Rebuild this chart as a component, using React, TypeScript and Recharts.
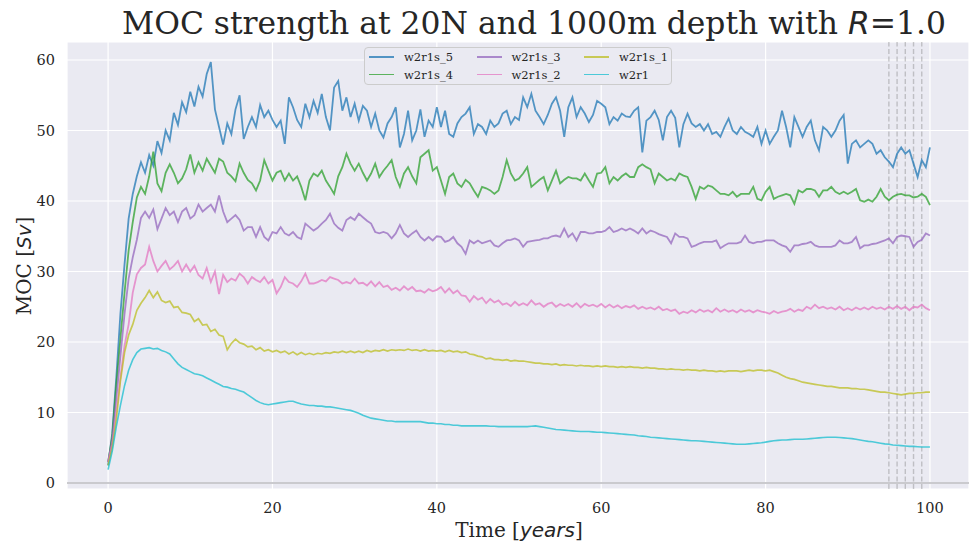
import { CartesianGrid, Line, LineChart, ReferenceLine, XAxis, YAxis } from "recharts"

const SERIF = "DejaVu Serif"
const MATH = "DejaVu Sans"
const INK = "#262626"

// sampled every half year, 0..100
const YEARS = Array.from({ length: 201 }, (_, i) => i / 2)

const W2R1S_5 = [
  2.5, 7.0, 15.0, 24.0, 31.0, 37.5, 41.0, 43.5, 45.5, 44.0,
  46.5, 45.0, 48.5, 46.8, 50.0, 48.6, 52.5, 50.8, 54.0, 52.6,
  55.5, 53.4, 56.2, 54.8, 58.0, 59.7, 53.0, 50.5, 48.0, 51.0,
  49.5, 53.0, 55.0, 48.8, 50.5, 51.9, 50.5, 53.6, 51.9, 52.8,
  51.5, 50.5, 51.4, 48.1, 54.7, 53.3, 51.5, 50.5, 53.8, 51.9,
  54.2, 52.5, 55.2, 51.9, 50.0, 56.1, 57.0, 52.8, 54.7, 51.9,
  53.8, 51.4, 53.5, 52.8, 50.5, 52.4, 50.0, 49.0, 51.0, 51.9,
  53.3, 47.6, 49.5, 52.8, 48.6, 50.0, 53.0, 49.1, 51.4, 50.5,
  53.3, 50.5, 52.8, 49.5, 49.1, 51.0, 51.9, 52.4, 53.3, 49.5,
  50.9, 50.5, 49.5, 51.4, 50.5, 51.0, 52.4, 52.8, 50.9, 51.9,
  51.5, 54.7, 53.3, 55.2, 52.8, 51.9, 50.9, 52.2, 53.8, 54.7,
  52.8, 49.1, 53.3, 54.7, 51.9, 53.3, 52.4, 51.2, 52.2, 54.2,
  53.8, 53.3, 50.9, 51.9, 51.4, 52.4, 52.0, 51.9, 52.8, 53.3,
  46.9, 51.4, 51.9, 52.8, 51.5, 48.6, 51.9, 52.8, 51.8, 47.6,
  50.9, 52.4, 51.0, 50.5, 50.9, 50.0, 50.9, 49.5, 49.8, 49.1,
  50.5, 51.7, 50.0, 49.5, 50.5, 49.8, 49.5, 49.1, 50.5, 48.1,
  50.0, 48.1, 49.1, 50.0, 52.8, 50.5, 47.6, 51.9, 50.5, 49.1,
  50.5, 51.4, 48.6, 47.2, 50.5, 50.0, 49.1, 50.0, 51.4, 52.2,
  45.3, 48.1, 48.6, 47.6, 48.1, 48.6, 48.1, 46.7, 47.2, 46.2,
  45.6, 44.8, 46.7, 47.6, 46.7, 47.2, 45.3, 43.4, 45.8, 44.8,
  47.6,
]

const W2R1S_4 = [
  3.0, 6.5, 14.0, 20.5, 27.0, 33.0, 37.0, 40.5, 42.0, 41.0,
  43.5, 47.0, 42.5, 41.4, 44.0, 45.2, 44.0, 42.5, 43.2, 44.5,
  46.6, 44.0, 45.5, 44.3, 46.0, 45.0, 44.0, 46.0, 45.6, 44.0,
  43.5, 42.8, 45.3, 44.0, 43.0, 42.5, 41.5, 42.9, 45.8, 44.3,
  42.9, 44.0, 44.3, 42.9, 43.9, 42.9, 43.5, 42.0, 40.1, 42.9,
  43.9, 43.5, 44.3, 42.9, 42.0, 41.0, 43.5, 44.8, 46.7, 45.3,
  44.3, 45.3, 44.0, 42.9, 43.9, 45.3, 43.4, 44.3, 45.0, 45.8,
  43.4, 42.0, 43.9, 44.8, 43.5, 42.5, 46.2, 46.7, 47.2, 44.3,
  44.8, 42.9, 41.0, 43.4, 43.9, 42.5, 42.0, 43.0, 42.5, 41.5,
  40.6, 42.0, 41.8, 41.5, 41.0, 41.5, 43.4, 45.8, 43.9, 42.9,
  43.2, 43.9, 44.8, 42.0, 42.5, 43.0, 43.4, 41.5, 42.9, 44.3,
  42.5, 43.0, 43.4, 43.2, 43.2, 42.9, 43.9, 42.9, 42.0, 43.9,
  44.0, 44.8, 42.5, 43.4, 42.9, 43.5, 43.9, 43.4, 43.4, 44.8,
  45.2, 44.8, 44.5, 42.5, 43.9, 43.4, 42.9, 43.2, 42.9, 43.9,
  43.6, 43.4, 42.0, 40.3, 42.0, 41.7, 42.2, 42.0, 41.5, 41.0,
  41.0, 40.8, 41.3, 40.6, 41.0, 41.0, 41.0, 42.0, 40.3, 40.1,
  41.3, 42.0, 40.3, 40.6, 40.8, 41.0, 40.8, 39.6, 41.5, 41.2,
  41.7, 41.7, 41.5, 40.6, 41.5, 41.5, 42.0, 41.3, 41.0, 41.3,
  41.0, 41.3, 41.7, 40.1, 39.9, 40.2, 39.9, 40.6, 41.7, 40.6,
  40.1, 40.6, 40.9, 41.0, 40.8, 40.8, 40.5, 40.6, 41.0, 40.6,
  39.4,
]

const W2R1S_3 = [
  3.0, 6.0, 12.0, 18.0, 24.0, 29.0, 32.0, 34.5, 37.6, 38.5,
  37.6, 38.8, 36.0, 37.5, 39.0, 38.0, 38.5, 37.0, 38.5, 39.0,
  37.5, 38.0, 39.5, 38.5, 39.0, 39.5, 38.5, 40.8, 38.5, 37.0,
  37.5, 38.0, 37.3, 35.8, 36.3, 36.3, 34.9, 36.3, 34.9, 34.4,
  35.6, 35.4, 36.3, 35.4, 35.1, 35.6, 34.9, 34.6, 36.8, 36.3,
  35.8, 36.2, 36.8, 37.3, 38.2, 36.8, 36.2, 35.8, 37.3, 37.7,
  37.3, 38.2, 37.7, 37.2, 36.8, 35.6, 35.4, 35.6, 35.4, 34.7,
  35.4, 36.6, 35.4, 34.9, 35.4, 35.8, 34.9, 34.4, 34.9, 34.4,
  35.0, 34.9, 34.2, 34.4, 34.9, 34.0, 33.5, 32.5, 34.4, 34.0,
  34.4, 34.0, 34.2, 34.4, 33.7, 33.5, 34.0, 34.4, 34.5, 34.7,
  34.4, 33.5, 34.2, 34.3, 34.4, 34.5, 34.7, 34.7, 35.0, 35.1,
  34.9, 36.1, 34.9, 35.4, 34.4, 35.6, 35.6, 35.4, 35.4, 35.6,
  35.6, 35.8, 36.3, 35.6, 35.8, 36.1, 35.8, 36.1, 35.8, 35.4,
  36.1, 35.4, 35.8, 35.6, 35.3, 35.1, 34.9, 34.0, 35.4, 34.9,
  34.9, 34.7, 33.5, 33.7, 34.0, 34.2, 34.2, 34.2, 34.4, 33.3,
  33.7, 34.0, 34.0, 34.0, 34.2, 35.1, 34.2, 34.0, 34.2, 34.2,
  34.4, 34.4, 34.4, 34.0, 33.7, 33.5, 32.8, 33.7, 33.7, 33.9,
  34.0, 34.2, 33.7, 33.5, 33.5, 33.5, 33.5, 33.7, 34.4, 34.0,
  34.0, 34.2, 34.9, 33.3, 33.7, 33.7, 33.9, 34.0, 34.2, 34.4,
  34.7, 34.0, 34.9, 35.1, 35.0, 34.9, 33.5, 34.2, 34.5, 35.4,
  35.1,
]

const W2R1S_2 = [
  3.0, 5.5, 10.0, 15.0, 19.5, 22.5, 27.0, 29.6, 30.5, 31.0,
  33.5, 31.5, 30.0, 30.8, 31.5, 30.3, 30.8, 31.5, 30.0, 31.0,
  30.0, 30.8, 29.5, 29.0, 30.5, 28.5, 30.0, 26.8, 29.5, 28.5,
  29.0, 28.7, 29.7, 29.2, 28.3, 29.2, 28.8, 28.5, 29.2, 28.3,
  28.8, 26.9, 27.8, 29.2, 28.5, 28.3, 27.8, 28.6, 29.7, 28.3,
  28.3, 28.5, 28.8, 28.6, 29.2, 29.0, 28.8, 28.3, 28.5, 28.3,
  29.0, 28.3, 28.4, 28.0, 28.6, 27.9, 28.5, 27.8, 28.0, 27.4,
  27.7, 27.3, 27.9, 27.4, 27.8, 27.2, 27.3, 27.0, 27.5, 27.2,
  27.4, 27.8, 27.0, 27.6, 26.9, 27.3, 26.6, 26.5, 25.7, 26.5,
  26.0, 26.3, 25.5, 26.1, 25.6, 25.9, 25.3, 25.5, 25.1, 25.7,
  25.2, 25.5, 25.2, 25.9, 25.3, 25.5, 25.0, 25.4, 25.6, 25.0,
  25.4, 25.1, 25.4, 25.0, 25.5, 24.9, 25.4, 25.1, 25.3, 25.0,
  25.4, 24.9, 25.3, 24.9, 25.2, 24.8, 25.1, 24.9, 25.2, 24.7,
  25.0, 24.7, 24.9, 24.6, 25.0, 24.5, 24.7, 24.4, 24.6, 24.0,
  24.3, 24.1, 24.5, 24.2, 24.6, 24.3, 24.5, 24.2, 24.8, 24.3,
  24.6, 24.3, 24.5, 24.2, 24.6, 24.3, 24.5, 24.2, 24.5, 24.3,
  24.2, 24.0, 24.4, 24.1, 24.3, 24.4, 24.7, 24.3, 24.6, 24.4,
  25.0, 24.7, 25.3, 24.8, 25.0, 24.7, 24.9, 24.6, 25.0, 24.5,
  24.8, 24.5, 24.9, 24.6, 24.9, 24.6, 25.0, 24.7, 24.9, 24.6,
  25.0, 24.7, 25.1, 24.7, 25.0, 24.5, 25.0, 24.9, 25.3, 24.8,
  24.5,
]

const W2R1S_1 = [
  2.5, 5.0, 9.0, 14.5, 18.5, 21.0, 22.5, 24.5, 25.5, 26.3,
  27.3, 26.3, 27.1, 25.9, 25.6, 25.8, 24.9, 25.0, 24.2, 24.1,
  23.9, 22.9, 23.3, 22.4, 22.5, 21.5, 21.8, 21.0, 20.8, 18.9,
  19.8, 20.4, 19.9, 19.7, 19.3, 19.4, 18.9, 19.2, 18.7, 18.9,
  18.6, 18.8, 18.5, 18.7, 18.3, 18.6, 18.2, 18.5, 18.2, 18.4,
  18.2, 18.4, 18.3, 18.5, 18.4, 18.6, 18.5, 18.7, 18.5, 18.7,
  18.5, 18.7, 18.5, 18.8, 18.6, 18.8, 18.7, 18.9, 18.7, 18.9,
  18.8, 18.9, 18.8, 19.0, 18.8, 18.9, 18.7, 18.9, 18.7, 18.8,
  18.7, 18.8, 18.6, 18.8, 18.6, 18.7, 18.5, 18.6, 18.3, 18.2,
  18.0, 17.9, 17.6, 17.7, 17.5, 17.5, 17.4, 17.5, 17.3, 17.4,
  17.3, 17.3, 17.2, 17.1, 17.0, 17.0, 16.9, 16.9, 16.8, 16.9,
  16.7, 16.8, 16.7, 16.7, 16.6, 16.7, 16.6, 16.6, 16.5, 16.6,
  16.5, 16.6, 16.5, 16.5, 16.4, 16.5, 16.4, 16.5, 16.4, 16.4,
  16.3, 16.4, 16.3, 16.3, 16.2, 16.2, 16.1, 16.2, 16.1, 16.1,
  16.0, 16.1, 16.0, 16.0, 15.9, 16.0, 15.9, 15.9, 15.8, 15.9,
  15.8, 15.9, 15.9, 15.9, 15.8, 15.9, 16.0, 15.9, 16.0, 16.0,
  15.9, 16.0, 15.8, 15.6, 15.3, 15.0, 14.8, 14.7, 14.5, 14.3,
  14.2, 14.1, 14.0, 13.9, 13.8, 13.7, 13.7, 13.6, 13.5, 13.5,
  13.5, 13.4, 13.4, 13.3, 13.3, 13.2, 13.1, 13.0, 12.9, 12.9,
  12.8, 12.7, 12.6, 12.5, 12.6, 12.7, 12.7, 12.8, 12.8, 12.9,
  12.9,
]

const W2R1 = [
  1.9, 4.5, 8.0, 11.0, 13.8, 16.0, 17.5, 18.5, 19.0, 19.1,
  19.2, 19.0, 19.1, 18.8, 18.6, 18.3, 17.6, 16.9, 16.4, 16.1,
  15.8, 15.5, 15.4, 15.2, 14.9, 14.6, 14.3, 14.0, 13.7, 13.6,
  13.4, 13.3, 13.1, 12.9, 12.5, 12.1, 11.7, 11.4, 11.2, 11.1,
  11.2, 11.3, 11.4, 11.5, 11.6, 11.6, 11.4, 11.2, 11.1, 11.0,
  11.0, 10.9, 10.9, 10.8, 10.8, 10.7, 10.6, 10.5, 10.4, 10.3,
  10.1, 9.9, 9.6, 9.4, 9.2, 9.1, 9.0, 8.9, 8.8, 8.8,
  8.7, 8.7, 8.7, 8.7, 8.7, 8.7, 8.7, 8.6, 8.5, 8.5,
  8.4, 8.4, 8.3, 8.3, 8.2, 8.2, 8.1, 8.1, 8.1, 8.1,
  8.1, 8.1, 8.1, 8.05, 8.05, 8.0, 8.0, 8.0, 8.0, 8.0,
  8.0, 8.0, 8.0, 8.05, 8.1, 8.0, 7.9, 7.8, 7.7, 7.6,
  7.55, 7.5, 7.45, 7.4, 7.35, 7.3, 7.3, 7.3, 7.25, 7.2,
  7.2, 7.15, 7.1, 7.05, 7.0, 6.95, 6.9, 6.85, 6.8, 6.7,
  6.65, 6.6, 6.5, 6.45, 6.4, 6.35, 6.3, 6.25, 6.2, 6.15,
  6.1, 6.05, 6.0, 6.0, 5.95, 5.9, 5.85, 5.8, 5.75, 5.7,
  5.65, 5.6, 5.55, 5.5, 5.5, 5.5, 5.55, 5.6, 5.65, 5.7,
  5.8, 5.9, 6.0, 6.05, 6.1, 6.1, 6.15, 6.2, 6.2, 6.2,
  6.25, 6.3, 6.35, 6.4, 6.45, 6.5, 6.5, 6.5, 6.45, 6.4,
  6.35, 6.3, 6.2, 6.1, 6.0, 5.9, 5.85, 5.75, 5.65, 5.55,
  5.5, 5.4, 5.35, 5.3, 5.25, 5.2, 5.2, 5.15, 5.1, 5.1,
  5.1,
]

// noisy runs get a slightly heavier stroke
const SERIES = [
  { key: "w2r1s_5", color: "#1f77b4", width: 1.8, values: W2R1S_5 },
  { key: "w2r1s_4", color: "#2ca02c", width: 1.8, values: W2R1S_4 },
  { key: "w2r1s_3", color: "#9467bd", width: 1.8, values: W2R1S_3 },
  { key: "w2r1s_2", color: "#e377c2", width: 1.8, values: W2R1S_2 },
  { key: "w2r1s_1", color: "#bcbd22", width: 1.7, values: W2R1S_1 },
  { key: "w2r1", color: "#17becf", width: 1.6, values: W2R1 },
]

const MARKER_YEARS = [95, 96, 97, 98, 99]
const X_TICKS = [0, 20, 40, 60, 80, 100]
const Y_TICKS = [0, 10, 20, 30, 40, 50, 60]

const rows = YEARS.map((t, i) => {
  const row: Record<string, number> = { t }
  SERIES.forEach((s) => {
    row[s.key] = s.values[i]
  })
  return row
})

function LegendBox() {
  return (
    <div
      style={{
        position: "absolute",
        left: 364,
        top: 47,
        width: 308,
        height: 38,
        background: "#EAEAF2",
        border: "1px solid #cccccc",
        borderRadius: 4,
        boxSizing: "border-box",
      }}
    >
      {SERIES.map((s, i) => {
        const col = Math.floor(i / 2)
        const row = i % 2
        return (
          <div
            key={s.key}
            style={{
              position: "absolute",
              left: 4 + col * 107.5,
              top: 1 + row * 17.5,
              height: 16,
              display: "flex",
              alignItems: "center",
              fontFamily: SERIF,
              fontSize: 11.5,
              color: INK,
              whiteSpace: "nowrap",
            }}
          >
            <span
              style={{
                display: "inline-block",
                width: 25,
                height: 1.5,
                background: s.color,
                opacity: 0.75,
                marginRight: 10,
              }}
            />
            {s.key}
          </div>
        )
      })}
    </div>
  )
}

export default function App() {
  return (
    <div
      style={{
        position: "absolute",
        left: 0,
        top: 0,
        width: 969,
        height: 549,
        background: "#ffffff",
        overflow: "hidden",
      }}
    >
      <LineChart width={969} height={549} data={rows} margin={{ top: 42, right: 0, bottom: 30, left: 7 }}>
        <CartesianGrid stroke="#ffffff" strokeWidth={1.2} fill="#EAEAF2" />
        <XAxis
          dataKey="t"
          type="number"
          domain={[-5, 104.75]}
          ticks={X_TICKS}
          allowDataOverflow
          tickLine={false}
          axisLine={false}
          tickMargin={8}
          height={30}
          tick={{ fill: INK, fontSize: 14.5, fontFamily: SERIF }}
        />
        <YAxis
          type="number"
          domain={[-0.85, 62.55]}
          ticks={Y_TICKS}
          allowDataOverflow
          tickLine={false}
          axisLine={false}
          tickMargin={6}
          width={60}
          tick={{ fill: INK, fontSize: 14.5, fontFamily: SERIF }}
        />
        <ReferenceLine y={0} stroke="#cacace" strokeWidth={2.2} />
        {MARKER_YEARS.map((yr) => (
          <ReferenceLine
            key={yr}
            x={yr}
            stroke="#808080"
            strokeOpacity={0.4}
            strokeWidth={1.4}
            strokeDasharray="5 2.5"
          />
        ))}
        {SERIES.map((s) => (
          <Line
            key={s.key}
            dataKey={s.key}
            type="linear"
            stroke={s.color}
            strokeOpacity={0.75}
            strokeWidth={s.width}
            dot={false}
            activeDot={false}
            isAnimationActive={false}
          />
        ))}
      </LineChart>

      <svg
        width={969}
        height={549}
        style={{ position: "absolute", left: 0, top: 0, pointerEvents: "none" }}
      >
        <text x={122} y={34} fontFamily={SERIF} fontSize={31.4} fill={INK}>
          MOC strength at 20N and 1000m depth with{" "}
          <tspan fontFamily={MATH} fontStyle="italic">R</tspan>=1.0
        </text>
        <text x={519} y={537} textAnchor="middle" fontFamily={SERIF} fontSize={20} fill={INK}>
          Time [<tspan fontFamily={MATH} fontStyle="italic">years</tspan>]
        </text>
        <text
          transform="translate(31,266) rotate(-90)"
          textAnchor="middle"
          fontFamily={SERIF}
          fontSize={20}
          fill={INK}
        >
          MOC [<tspan fontFamily={MATH} fontStyle="italic">Sv</tspan>]
        </text>
      </svg>

      <LegendBox />
    </div>
  )
}
